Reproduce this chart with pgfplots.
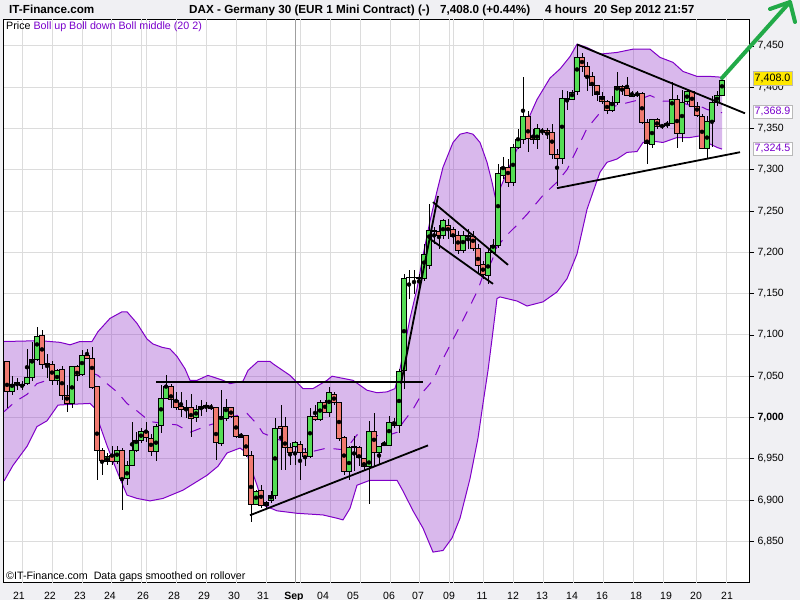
\documentclass[border=0pt]{standalone}
\usepackage{fontspec}
\setmainfont{Liberation Sans}
\usepackage{pgfplots}
\pgfplotsset{compat=1.18}
\usepackage{pgfplotstable}
\definecolor{bgc}{HTML}{F0F0F3}
\definecolor{gridc}{HTML}{DCDCDC}
\definecolor{bandf}{HTML}{8C28C8}
\definecolor{bandl}{HTML}{8000C8}
\definecolor{cgreen}{HTML}{55DD55}
\definecolor{cred}{HTML}{F07A70}
\definecolor{arrowg}{HTML}{22AA48}
\definecolor{labp}{HTML}{7A00CC}
\definecolor{yel}{HTML}{FFE800}

\pgfplotstableread{
x o h l c
7 7068 7068 7011 7031
12 7031 7050 7027 7040
17 7042 7048 7033 7040
22 7040 7044 7033 7039
27 7041 7083 7039 7048
32 7048 7092 7044 7070
37 7070 7109 7068 7098
42 7099 7106 7059 7064
47 7064 7077 7048 7066
52 7064 7069 7040 7045
57 7045 7059 7039 7057
62 7058 7062 7021 7027
67 7027 7039 7007 7017
72 7017 7062 7011 7062
77 7062 7064 7044 7051
82 7052 7082 7050 7075
87 7075 7083 7071 7072
92 7072 7085 7035 7036
97 7037 7037 6924 6960
102 6960 6963 6930 6948
107 6947 6957 6942 6953
112 6954 6966 6942 6947
117 6947 6966 6944 6960
122 6960 6963 6888 6926
127 6926 6947 6918 6942
132 6942 6994 6941 6960
136 6960 6983 6958 6972
141 6972 6987 6969 6983
146 6983 6995 6971 6976
151 6975 6980 6954 6959
156 6959 6992 6947 6989
161 6990 7039 6981 7023
166 7023 7052 7023 7037
171 7037 7040 7011 7022
176 7021 7031 7009 7012
181 7013 7031 7001 7010
186 7012 7021 6999 7011
191 7012 7029 6977 6999
196 7000 7015 6995 7010
201 7011 7021 7002 7013
206 7015 7019 7007 7013
211 7012 7016 7009 7011
216 7012 7012 6948 6970
221 6969 7033 6966 7001
226 6999 7022 6996 7012
231 7012 7012 7000 7001
236 7001 7001 6975 6977
241 6976 6981 6975 6978
246 6978 6978 6952 6954
251 6954 6959 6873 6895
256 6895 6912 6894 6911
261 6912 6918 6890 6893
266 6893 6899 6891 6897
271 6899 6911 6896 6905
275 6905 6999 6902 6987
281 6989 7015 6936 6987
285 6989 7001 6936 6964
290 6964 6969 6942 6958
295 6965 6971 6942 6970
300 6967 6971 6924 6958
305 6958 6963 6941 6953
310 6953 7011 6951 7001
315 7001 7015 6996 6998
320 6998 7021 6996 7018
325 7018 7021 7005 7006
329 7006 7037 7001 7030
334 7028 7031 7015 7018
339 7018 7018 6971 6975
344 6976 6978 6930 6935
349 6935 6966 6924 6964
354 6965 6978 6935 6964
359 6964 6965 6941 6952
364 6951 6951 6936 6941
369 6941 6996 6895 6983
374 6983 7005 6941 6958
379 6958 6966 6942 6965
384 6966 6971 6965 6969
389 6966 7002 6965 6994
394 6993 6999 6987 6990
399 6990 7059 6981 7056
404 7057 7174 7035 7168
409 7169 7178 7144 7170
414 7170 7178 7150 7169
419 7169 7174 7156 7168
424 7168 7210 7165 7198
429 7184 7258 7180 7226
434 7227 7231 7210 7225
439 7225 7233 7204 7220
443 7220 7240 7216 7238
448 7233 7240 7216 7229
453 7228 7231 7210 7219
458 7220 7226 7198 7202
463 7202 7226 7199 7220
468 7220 7228 7204 7219
473 7219 7226 7202 7205
478 7205 7210 7174 7184
483 7185 7190 7168 7173
488 7172 7204 7162 7200
493 7200 7216 7198 7208
498 7208 7307 7205 7295
503 7293 7315 7289 7303
508 7303 7313 7279 7285
513 7284 7331 7281 7327
518 7327 7349 7325 7337
523 7337 7412 7331 7364
528 7364 7371 7322 7338
533 7339 7349 7331 7337
537 7337 7355 7325 7350
542 7348 7351 7342 7347
547 7347 7351 7337 7345
552 7345 7355 7313 7319
557 7319 7325 7280 7314
562 7314 7397 7307 7386
567 7385 7395 7373 7386
572 7385 7397 7384 7394
577 7395 7452 7391 7436
582 7436 7442 7419 7425
587 7425 7430 7395 7413
592 7413 7419 7389 7402
597 7402 7403 7383 7391
602 7389 7394 7379 7383
607 7383 7385 7367 7372
612 7372 7389 7370 7382
617 7382 7418 7379 7401
622 7401 7403 7391 7397
627 7398 7412 7389 7390
632 7389 7395 7388 7391
637 7391 7395 7388 7390
642 7392 7394 7355 7357
647 7357 7361 7307 7332
652 7331 7362 7327 7361
657 7361 7363 7349 7353
662 7354 7356 7350 7353
667 7356 7359 7351 7354
672 7356 7406 7355 7385
677 7385 7391 7327 7344
682 7344 7397 7333 7382
687 7383 7397 7380 7395
692 7395 7396 7376 7377
697 7377 7382 7364 7366
702 7365 7367 7325 7326
707 7326 7365 7313 7359
712 7358 7389 7327 7382
717 7382 7395 7377 7390
722 7390 7413 7389 7408
}\candles

% Bollinger band: upper band (left to right)
\pgfplotstableread{
x y
4 7092
40 7093
60 7091
70 7088
80 7092
92 7092
98 7104
110 7120
122 7128
127 7128
137 7114
147 7095
153 7089
162 7085
170 7083
177 7074
185 7059
190 7045
197 7045
208 7051
223 7045
230 7041
243 7044
248 7057
258 7068
270 7068
273 7065
290 7051
303 7035
313 7035
327 7045
332 7050
353 7045
367 7033
377 7030
387 7031
395 7035
400 7059
405 7089
410 7120
417 7156
423 7196
430 7238
437 7274
443 7303
453 7333
460 7343
467 7345
473 7343
480 7333
487 7309
492 7285
495 7268
500 7277
507 7297
517 7325
527 7358
537 7385
550 7411
560 7422
570 7437
577 7452
587 7448
600 7440
617 7442
633 7446
650 7446
660 7436
673 7430
683 7419
697 7413
710 7413
722 7412
}\upband

% lower band (left to right)
\pgfplotstableread{
x y
4 6923
13 6942
27 6965
37 6989
47 6996
58 7015
72 7016
90 7017
95 7011
100 6990
107 6966
117 6935
127 6906
137 6902
150 6899
163 6902
183 6912
207 6930
218 6941
227 6957
240 6963
247 6957
250 6942
257 6918
263 6894
277 6887
297 6884
323 6882
337 6878
343 6876
350 6890
357 6918
370 6924
397 6924
403 6911
413 6887
423 6866
433 6837
443 6839
452 6854
460 6878
470 6926
478 6975
483 7017
488 7057
492 7095
497 7144
500 7146
517 7141
527 7135
543 7140
557 7152
567 7168
577 7198
587 7252
593 7273
600 7297
607 7309
617 7313
627 7321
637 7322
643 7333
650 7335
663 7333
677 7339
690 7339
700 7341
707 7333
717 7327
722 7325
}\loband

% lower band right to left (to close the band polygon)
\pgfplotstableread{
x y
722 7325
717 7327
707 7333
700 7341
690 7339
677 7339
663 7333
650 7335
643 7333
637 7322
627 7321
617 7313
607 7309
600 7297
593 7273
587 7252
577 7198
567 7168
557 7152
543 7140
527 7135
517 7141
500 7146
497 7144
492 7095
488 7057
483 7017
478 6975
470 6926
460 6878
452 6854
443 6839
433 6837
423 6866
413 6887
403 6911
397 6924
370 6924
357 6918
350 6890
343 6876
337 6878
323 6882
297 6884
277 6887
263 6894
257 6918
250 6942
247 6957
240 6963
227 6957
218 6941
207 6930
183 6912
163 6902
150 6899
137 6902
127 6906
117 6935
107 6966
100 6990
95 7011
90 7017
72 7016
58 7015
47 6996
37 6989
27 6965
13 6942
4 6923
}\lobandrev

\pgfplotstableread{
x y
4 7007
15 7019
27 7028
37 7041
47 7045
58 7053
72 7052
90 7055
98 7051
107 7041
117 7031
127 7017
137 7008
150 6995
163 6993
177 6991
190 6982
207 6990
218 6994
227 7000
240 7003
247 7005
257 6992
263 6981
277 6974
297 6964
313 6959
327 6963
343 6961
350 6968
357 6979
370 6978
387 6978
397 6982
403 6994
413 7010
423 7031
433 7045
443 7071
452 7092
460 7111
470 7135
478 7155
483 7172
488 7181
492 7190
497 7207
500 7211
507 7221
517 7233
527 7246
543 7269
557 7285
567 7300
577 7325
587 7350
600 7369
617 7378
637 7384
650 7390
663 7383
677 7383
690 7378
700 7377
707 7373
717 7370
722 7369
}\midband

\pgfplotstablevertcat{\bandpoly}{\upband}
\pgfplotstablevertcat{\bandpoly}{\lobandrev}

\pgfplotstablegetrowsof{\candles}
\pgfmathtruncatemacro{\NC}{\pgfplotsretval-1}

\newcommand{\fs}[1]{\fontsize{#1bp}{#1bp}\selectfont}

\begin{document}
\begin{tikzpicture}
% grey frame around the (white) plot area
\fill[bgc, even odd rule] (0,0) rectangle (800bp,600bp) (3.5bp,17.5bp) rectangle (749bp,580.5bp);
\begin{axis}[
  at={(3.5bp,17.5bp)}, anchor=south west,
  scale only axis, width=745.5bp, height=563bp,
  xmin=3.5, xmax=749, ymin=6800.2, ymax=7481.9,
  axis background/.style={fill=white},
  axis line style={black, line width=0.8bp},
  ytick={6850,6900,...,7450},
  yticklabels={{6,850},{6,900},{6,950},{\textbf{7,000}},{7,050},{7,100},{7,150},{7,200},{7,250},{7,300},{7,350},{7,400},{7,450}},
  ytick pos=right, yticklabel pos=right,
  ytick style={black, line width=0.6bp},
  tick align=outside, major tick length=5bp,
  yticklabel style={font=\fs{10.5}, anchor=west, xshift=0bp},
  ymajorgrids=true,
  major grid style={gridc, line width=1bp},
  xtick={19,50,80,110,143,174,204,234,263,294,323,353,389,418,449,482,513,542,572,602,636,666,696,727},
  xticklabels={21,22,23,24,26,28,29,30,31,\textbf{Sep},04,05,06,07,09,11,12,13,14,16,18,19,20,21},
  xtick style={draw=none},
  xticklabel style={font=\fs{10.5}, anchor=base, inner sep=0pt, yshift=-11.5bp},
  extra x ticks={22.7,52.3,82.3,111.7,141.7,146.7,176.7,206.7,236.7,266.7,300.7,330,360,390,419.3,449.3,453.3,483.3,513.3,543.3,573.3,603.3,633.3,663.3,696.7,726.7},
  extra x tick labels={},
  extra x tick style={grid=major, major tick length=0pt},
  clip=true,
]
\addplot[forget plot, gray!75, line width=1bp] coordinates {(295.7,6800.2) (295.7,7481.9)};

% band fill, borders and middle
\addplot[fill=bandf, fill opacity=0.33, draw=none, forget plot] table[x=x,y=y]{\bandpoly} -- cycle;
\addplot[bandl, line width=1bp, forget plot] table[x=x,y=y]{\upband};
\addplot[bandl, line width=1bp, forget plot] table[x=x,y=y]{\loband};
\addplot[bandl, line width=1bp, dash pattern=on 11bp off 9bp, forget plot] table[x=x,y=y]{\midband};

% wicks
\addplot[only marks, mark=none, forget plot,
  error bars/.cd, y dir=both, y explicit, error mark=none,
  error bar style={draw=black, line width=0.9bp, solid}]
  table[x=x, y expr={(\thisrow{h}+\thisrow{l})/2}, y error expr={(\thisrow{h}-\thisrow{l})/2}] {\candles};

% bodies
\pgfplotsforeachungrouped \i in {0,...,\NC}{%
  \pgfplotstablegetelem{\i}{x}\of\candles \let\cx\pgfplotsretval
  \pgfplotstablegetelem{\i}{o}\of\candles \let\co\pgfplotsretval
  \pgfplotstablegetelem{\i}{c}\of\candles \let\cc\pgfplotsretval
  \pgfmathsetmacro{\xa}{\cx-2.1}%
  \pgfmathsetmacro{\xb}{\cx+2.1}%
  \ifdim\cc pt>\co pt \def\cfill{cgreen}\else\def\cfill{cred}\fi
  \edef\temp{\noexpand\addplot[fill=\cfill, draw=black, line width=0.9bp, forget plot] coordinates {(\xa,\co) (\xb,\co) (\xb,\cc) (\xa,\cc)} -- cycle;}%
  \temp
}

% trend lines
\addplot[black, line width=1.8bp, forget plot] coordinates {(156,7042.9) (423,7042.9)};
\addplot[black, line width=1.8bp, forget plot] coordinates {(250,6881.6) (428,6966.2)};
\addplot[black, line width=1.8bp, forget plot] coordinates {(401,7041) (438,7268.1)};
\addplot[black, line width=1.8bp, forget plot] coordinates {(433,7260.8) (508,7184.8)};
\addplot[black, line width=1.8bp, forget plot] coordinates {(430,7216.2) (493,7161.8)};
\addplot[black, line width=1.8bp, forget plot] coordinates {(577,7451.7) (745,7368.3)};
\addplot[black, line width=1.8bp, forget plot] coordinates {(557,7277.7) (740,7321.2)};
\end{axis}

% title bar
\node[anchor=base west, inner sep=0, font=\fs{11.7}\bfseries] at (9bp,586bp) {IT-Finance.com};
\node[anchor=base west, inner sep=0, font=\fs{11.7}\bfseries] at (189bp,586bp) {DAX - Germany 30 (EUR 1 Mini Contract) (-)};
\node[anchor=base west, inner sep=0, font=\fs{11.7}\bfseries] at (440bp,586bp) {7,408.0 (+0.44\%)};
\node[anchor=base west, inner sep=0, font=\fs{11.7}\bfseries] at (545bp,586bp) {4 hours};
\node[anchor=base west, inner sep=0, font=\fs{11.7}\bfseries] at (594bp,586bp) {20 Sep 2012 21:57};

% legend and footer
\node[anchor=base west, inner sep=0, font=\fs{10.7}] at (6bp,570bp) {Price \textcolor{labp}{Boll up Boll down Boll middle (20 2)}};
\node[anchor=base west, inner sep=0, font=\fs{10.7}] at (6bp,21bp) {\textcopyright IT-Finance.com\ \ Data gaps smoothed on rollover};

% value boxes
\node[anchor=west, draw=gray!55, fill=yel, inner xsep=1.5bp, inner ysep=0bp, minimum height=14bp, font=\fs{10.7}] at (753bp,521.5bp) {7,408.0};
\node[anchor=west, draw=gray!55, fill=white, text=labp, inner xsep=1.5bp, inner ysep=0bp, minimum height=13bp, font=\fs{10.7}] at (753bp,488.5bp) {7,368.9};
\node[anchor=west, draw=gray!55, fill=white, text=labp, inner xsep=1.5bp, inner ysep=0bp, minimum height=13bp, font=\fs{10.7}] at (753bp,451.5bp) {7,324.5};

% green arrow annotation
\draw[arrowg, line width=4bp, line cap=round, line join=round] (722bp,522bp) -- (789bp,597bp);
\draw[arrowg, line width=4bp, line cap=round, line join=round] (770bp,591bp) -- (790bp,598bp) -- (795bp,578bp);

\pgfresetboundingbox
\path (0,0) rectangle (800bp,600bp);
\end{tikzpicture}
\end{document}
